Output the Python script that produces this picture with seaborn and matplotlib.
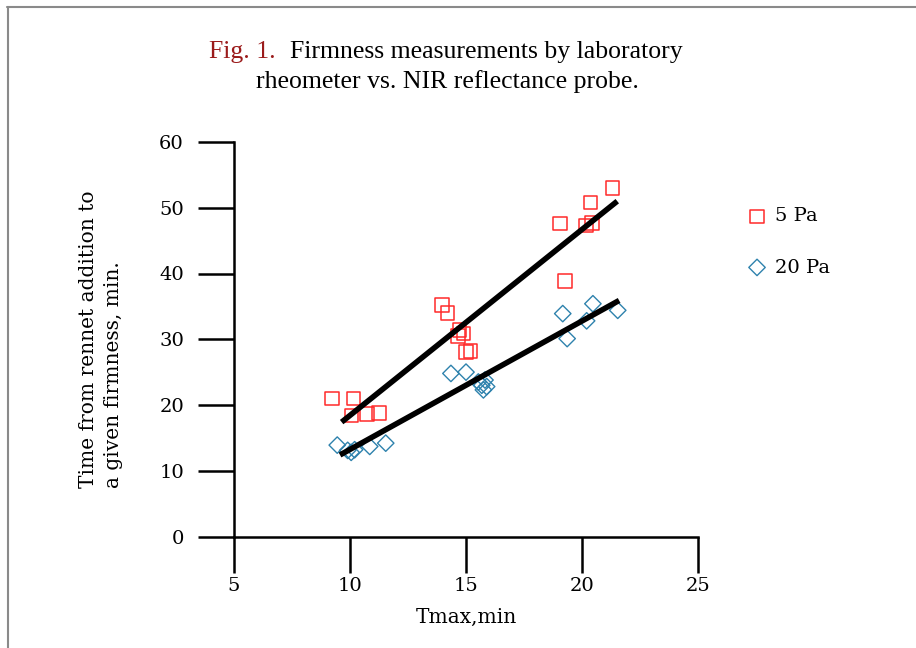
import matplotlib
matplotlib.use("Agg")
import matplotlib.pyplot as plt
import seaborn as sns
from matplotlib.lines import Line2D

# ---- data ----
tmax_5pa = [9.23, 10.16, 10.07, 10.74, 11.26, 13.97, 14.2, 14.71, 14.65, 14.9,
            14.99, 15.2, 21.31, 20.37, 19.05, 20.18, 20.44, 19.27]
time_5pa = [21.0, 21.0, 18.4, 18.6, 18.8, 35.2, 34.0, 31.4, 30.5, 30.9,
            28.1, 28.2, 53.0, 50.8, 47.6, 47.3, 47.7, 38.9]

tmax_20pa = [9.45, 9.9, 10.05, 10.2, 10.85, 11.54, 14.35, 15.0, 15.53, 15.68,
             15.82, 15.89, 15.75, 19.17, 20.47, 20.2, 21.54, 19.36]
time_20pa = [13.9, 13.1, 12.8, 13.2, 13.7, 14.2, 24.8, 25.0, 23.5, 23.0,
             23.8, 22.8, 22.3, 33.9, 35.4, 32.8, 34.4, 30.1]

fit_x_5pa = [9.64, 21.52]
fit_y_5pa = [17.4, 51.0]
fit_x_20pa = [9.57, 21.6]
fit_y_20pa = [12.4, 35.9]

x_ticks = [5, 10, 15, 20, 25]
y_ticks = [0, 10, 20, 30, 40, 50, 60]
series_labels = ["5 Pa", "20 Pa"]

title_fig = "Fig. 1."
title_line1 = "Firmness measurements by laboratory"
title_line2 = "rheometer vs. NIR reflectance probe."
x_label = "Tmax,min"
y_label = "Time from rennet addition to\na given firmness, min."

# ---- style ----
sns.set_style("white")
plt.rcParams['font.family'] = ['DejaVu Serif']
plt.rcParams['text.color'] = 'black'
plt.rcParams['axes.labelcolor'] = 'black'

RED = "#ff2a2a"
BLUE = "#2e82ad"
W, H = 916, 648

fig = plt.figure(figsize=(W / 100, H / 100), dpi=100)
fig.patch.set_facecolor("white")
ax = fig.add_axes([234 / W, 1 - 536.5 / H, (698 - 234) / W, (536.5 - 142) / H])
ax.set_facecolor("none")

sns.scatterplot(x=tmax_5pa, y=time_5pa, marker="s", s=95, facecolors="none",
                edgecolor=RED, linewidth=1.1, ax=ax, label=series_labels[0], zorder=3)
sns.scatterplot(x=tmax_20pa, y=time_20pa, marker="D", s=70, facecolors="none",
                edgecolor=BLUE, linewidth=1.0, ax=ax, label=series_labels[1], zorder=3)

sns.lineplot(x=fit_x_5pa, y=fit_y_5pa, color="black", lw=4, ax=ax, zorder=4,
             solid_capstyle="butt")
sns.lineplot(x=fit_x_20pa, y=fit_y_20pa, color="black", lw=4, ax=ax, zorder=4,
             solid_capstyle="butt")

ax.set_xlim(x_ticks[0], x_ticks[-1])
ax.set_ylim(y_ticks[0], y_ticks[-1])
ax.set_xticks(x_ticks)
ax.set_yticks(y_ticks)

for side in ["top", "right"]:
    ax.spines[side].set_visible(False)
for side in ["left", "bottom"]:
    ax.spines[side].set_linewidth(1.8)
    ax.spines[side].set_color("black")

ax.tick_params(axis="both", which="major", direction="out", length=26, width=1.8,
               labelsize=14, color="black", labelcolor="black",
               bottom=True, left=True, top=False, right=False)
ax.tick_params(axis="y", pad=10)
ax.tick_params(axis="x", pad=3)

ax.set_xlabel(x_label, fontsize=14.5, va="center", color="black")
ax.xaxis.set_label_coords(0.5, -0.204)
ax.set_ylabel(y_label, fontsize=14.5, va="center", ha="center",
              multialignment="left", linespacing=1.4, color="black")
ax.yaxis.set_label_coords(-0.287, 0.5)

leg = ax.legend(loc="center left", bbox_to_anchor=(747.3 / W, 1 - 242 / H),
                bbox_transform=fig.transFigure, frameon=False, fontsize=14,
                handlelength=1.0, handletextpad=0.4, labelspacing=1.7,
                borderpad=0, borderaxespad=0)
for t in leg.get_texts():
    t.set_color("black")

# title
fig.text(276 / W, 1 - 52 / H, title_fig, color="#9b1b1b", fontsize=18.5,
         family="Liberation Serif", ha="right", va="center")
fig.text(290 / W, 1 - 52 / H, title_line1, color="black", fontsize=18.5,
         family="Liberation Serif", ha="left", va="center")
fig.text(447 / W, 1 - 82 / H, title_line2, color="black", fontsize=18.5,
         family="Liberation Serif", ha="center", va="center")

# frame border (top and left)
fig.add_artist(Line2D([7 / W, 1.0], [1 - 7 / H, 1 - 7 / H], color="#8a8a8a",
                      lw=1.5, transform=fig.transFigure))
fig.add_artist(Line2D([7.5 / W, 7.5 / W], [1 - 7 / H, 0.0], color="#8a8a8a",
                      lw=1.5, transform=fig.transFigure))

fig.savefig("out.png", dpi=100)
